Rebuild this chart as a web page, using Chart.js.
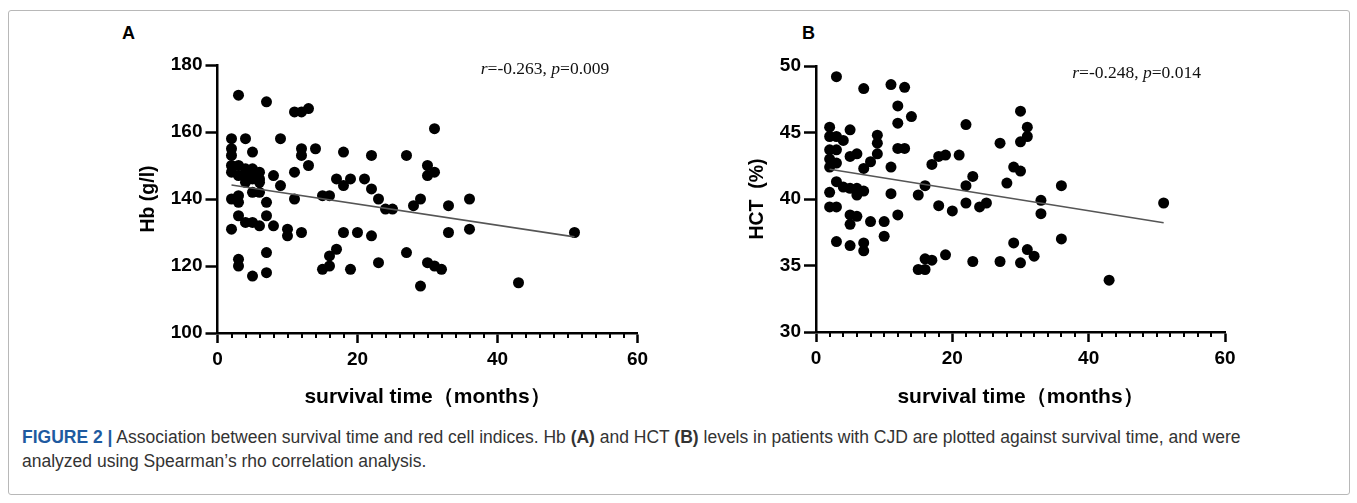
<!DOCTYPE html>
<html>
<head>
<meta charset="utf-8">
<script src="https://cdn.jsdelivr.net/npm/chart.js@4.4.0/dist/chart.umd.min.js"></script>
<style>
  html, body { margin: 0; padding: 0; background: #fff; }
  body { width: 1357px; height: 503px; position: relative; overflow: hidden;
         font-family: Arial, "Liberation Sans", sans-serif; }
  #frame { position: absolute; left: 8px; top: 10px; width: 1340px; height: 483px;
           border: 1px solid #b8b8b8; border-radius: 3px; }
  .panel { position: absolute; top: 40px; width: 560px; height: 370px; }
  #panelA { left: 100px; }
  #panelB { left: 700px; }
  .tag { position: absolute; top: 23px; font: bold 18px Arial, "Liberation Sans", sans-serif; color: #000; }
  #caption { position: absolute; left: 22px; top: 425px; width: 1325px; font-size: 17.5px;
             line-height: 24px; color: #333; white-space: nowrap; }
  #caption .fig { color: #1e5aa0; font-weight: bold; }
</style>
</head>
<body>
<div id="frame"></div>
<div class="tag" style="left:122px">A</div>
<div class="tag" style="left:802px">B</div>
<div class="panel" id="panelA"><canvas id="chartA" width="560" height="370"></canvas></div>
<div class="panel" id="panelB"><canvas id="chartB" width="560" height="370"></canvas></div>
<div id="caption"><span class="fig">FIGURE 2 |</span> Association between survival time and red cell indices. Hb <b>(A)</b> and HCT <b>(B)</b> levels in patients with CJD are plotted against survival time, and were<br>analyzed using Spearman’s rho correlation analysis.</div>

<script>
// survival time (months) and Hb (g/l) for panel A
const monthsA = [3, 7, 11, 12, 13,
  2, 4, 9, 2, 2, 5, 12, 12, 14, 18, 22, 13, 11, 8,
  2, 2, 3, 3, 4, 4, 5, 5, 6, 6, 4, 6, 5,
  9, 17, 19, 18, 21, 22, 23,
  5, 6, 2, 3, 3, 7, 11, 15, 16,
  24, 25, 28, 29, 33, 36, 33, 36,
  3, 4, 5, 6, 7, 8, 2, 10, 10, 12, 18, 20, 22,
  17, 16, 15, 16, 19, 23, 3, 3, 5, 7, 7,
  27, 31, 30, 31, 30, 27, 30, 31, 32, 29, 43, 51];
const hbA = [171, 169, 166, 166, 167,
  158, 158, 158, 155, 153, 154, 155, 153, 155, 154, 153, 150, 148, 147,
  150, 148, 150, 147, 149, 147, 149, 147, 148, 146, 145, 145, 146,
  144, 146, 146, 144, 146, 143, 140,
  142, 142, 140, 141, 139, 139, 140, 141, 141,
  137, 137, 138, 140, 138, 140, 130, 131,
  135, 133, 133, 132, 135, 132, 131, 131, 129, 130, 130, 130, 129,
  125, 123, 119, 120, 119, 121, 122, 120, 117, 124, 118,
  153, 161, 150, 148, 147, 124, 121, 120, 119, 114, 115, 130];

// survival time (months) and HCT (%) for panel B
const monthsB = [3, 7, 11, 13, 12, 14, 12, 22,
  2, 2, 5, 3, 4, 9, 9, 12, 13, 2, 3, 5, 6, 9, 2, 3, 2, 8, 7, 11, 17, 18, 19, 21, 23, 22, 16,
  30, 31, 31, 30, 27, 29, 30, 28, 36,
  2, 2, 3, 3, 4, 5, 6, 6, 7,
  5, 5, 6, 8, 10, 11, 12, 10, 3, 5, 7, 7,
  15, 15, 16, 16, 17, 18, 19, 20, 22, 23, 24, 25,
  33, 33, 29, 27, 30, 31, 32, 36, 43, 51];
const hctB = [49.2, 48.3, 48.6, 48.4, 47.0, 46.2, 45.7, 45.6,
  45.4, 44.7, 45.2, 44.7, 44.4, 44.8, 44.2, 43.8, 43.8, 43.7, 43.7, 43.2, 43.4, 43.4, 43.0, 42.7, 42.4, 42.8, 42.3, 42.4, 42.6, 43.2, 43.3, 43.3, 41.7, 41.0, 41.0,
  46.6, 45.4, 44.7, 44.3, 44.2, 42.4, 42.1, 41.2, 41.0,
  40.5, 39.4, 39.4, 41.3, 40.9, 40.8, 40.8, 40.3, 40.6,
  38.8, 38.1, 38.7, 38.3, 38.3, 40.4, 38.8, 37.2, 36.8, 36.5, 36.7, 36.1,
  40.3, 34.7, 34.7, 35.5, 35.4, 39.5, 35.8, 39.1, 39.7, 35.3, 39.4, 39.7,
  39.9, 38.9, 36.7, 35.3, 35.2, 36.2, 35.7, 37.0, 33.9, 39.7];

// fitted line end points
const fitMonths = [2, 51];
const fitHbA = [144.2, 128.7];
const fitHctB = [42.24, 38.22];

const xTicks = [0, 20, 40, 60];
const yTicksA = [100, 120, 140, 160, 180];
const yTicksB = [30, 35, 40, 45, 50];

const statA = ["-0.263", "0.009"];
const statB = ["-0.248", "0.014"];

const sans = 'Arial, "Liberation Sans", sans-serif';

// short ticks every 2 months between the labelled ones
const minorTicks = {
  id: "minorTicks",
  afterDraw(chart) {
    const xs = chart.scales.x, area = chart.chartArea, ctx = chart.ctx;
    ctx.save();
    ctx.strokeStyle = "#000";
    ctx.lineWidth = 2;
    for (let v = xs.min; v <= xs.max; v += 2) {
      if (v % 20 === 0) continue;
      const px = Math.round(xs.getPixelForValue(v));
      ctx.beginPath();
      ctx.moveTo(px, area.bottom);
      ctx.lineTo(px, area.bottom + 5);
      ctx.stroke();
    }
    ctx.restore();
  }
};

// "r=..., p=..." with italic r and p
const statText = {
  id: "statText",
  afterDraw(chart, args, opts) {
    const ctx = chart.ctx;
    let x = chart.scales.x.getPixelForValue(opts.at);
    const y = chart.chartArea.top + opts.dy;
    const parts = [["r", true], ["=" + opts.r + ", ", false], ["p", true], ["=" + opts.p, false]];
    ctx.save();
    ctx.fillStyle = "#111";
    ctx.textBaseline = "alphabetic";
    parts.forEach(([t, it]) => {
      ctx.font = (it ? "italic " : "") + '17.5px "Liberation Serif", "Times New Roman", serif';
      ctx.fillText(t, x, y);
      x += ctx.measureText(t).width;
    });
    ctx.restore();
  }
};

function makePanel(canvas, months, values, fitVals, yTicks, yTitle, stat, geo) {
  return new Chart(canvas, {
    type: "scatter",
    data: {
      datasets: [
        {
          type: "line",
          data: fitMonths.map((m, i) => ({ x: m, y: fitVals[i] })),
          borderColor: "#555",
          borderWidth: 1.6,
          pointRadius: 0,
          fill: false
        },
        {
          data: months.map((m, i) => ({ x: m, y: values[i] })),
          backgroundColor: "#000",
          borderWidth: 0,
          pointRadius: 5.5
        }
      ]
    },
    options: {
      responsive: false,
      animation: false,
      layout: { padding: { top: geo.top, right: geo.right, left: 0, bottom: 0 } },
      plugins: {
        legend: { display: false },
        tooltip: { enabled: false },
        statText: { r: stat[0], p: stat[1], at: 37.6, dy: geo.textDy }
      },
      scales: {
        x: {
          type: "linear",
          min: xTicks[0],
          max: xTicks[xTicks.length - 1],
          afterBuildTicks: (s) => { s.ticks = xTicks.map((v) => ({ value: v })); },
          afterFit: (s) => { s.height = geo.xH; },
          ticks: { color: "#000", padding: 5, maxRotation: 0, font: { family: sans, size: 19, weight: "bold" } },
          grid: { drawOnChartArea: false, tickLength: 10, tickColor: "#000", tickWidth: 2.5 },
          border: { display: true, color: "#000", width: 2.5 },
          title: {
            display: true,
            text: "survival time（months）",
            color: "#000",
            font: { family: sans, size: 21, weight: "bold" },
            padding: { top: 0, bottom: 0 }
          }
        },
        y: {
          type: "linear",
          min: yTicks[0],
          max: yTicks[yTicks.length - 1],
          afterBuildTicks: (s) => { s.ticks = yTicks.map((v) => ({ value: v })); },
          afterFit: (s) => { s.width = geo.yW; },
          ticks: { color: "#000", padding: 3, font: { family: sans, size: 19, weight: "bold" } },
          grid: { drawOnChartArea: false, tickLength: 12, tickColor: "#000", tickWidth: 2.5 },
          border: { display: true, color: "#000", width: 2.5 },
          title: {
            display: true,
            text: yTitle,
            color: "#000",
            font: { family: sans, size: 19.5, weight: "bold" },
            padding: { top: geo.titlePad, bottom: 0 }
          }
        }
      }
    },
    plugins: [minorTicks, statText]
  });
}

makePanel(document.getElementById("chartA"), monthsA, hbA, fitHbA, yTicksA, "Hb (g/l)", statA,
  { top: 25, right: 22.5, xH: 77, yW: 117.5, titlePad: 37, textDy: 9 });
makePanel(document.getElementById("chartB"), monthsB, hctB, fitHctB, yTicksB, "HCT  (%)", statB,
  { top: 26, right: 35, xH: 78, yW: 116, titlePad: 46, textDy: 12 });
</script>
</body>
</html>
